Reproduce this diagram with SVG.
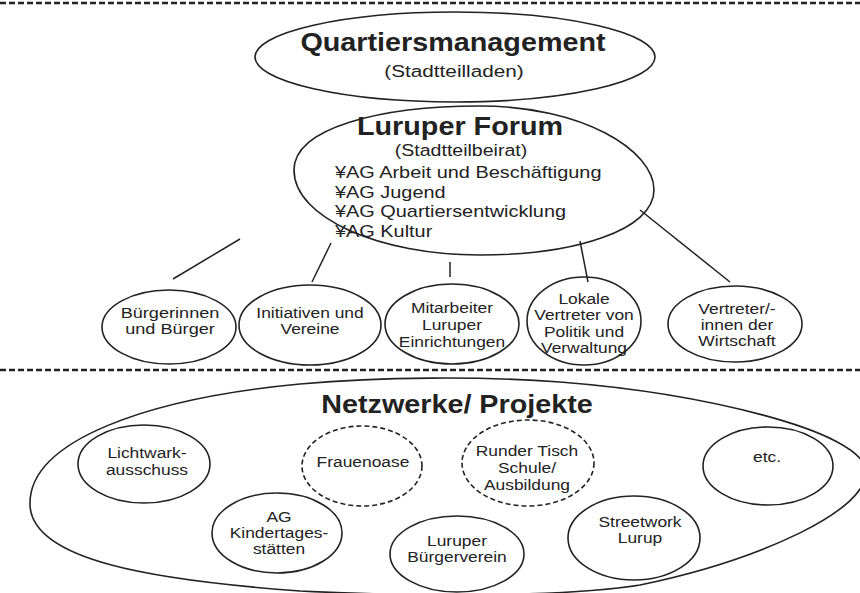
<svg xmlns="http://www.w3.org/2000/svg" width="860" height="593" viewBox="0 0 860 593">
<style>
.bg{fill:#fff}
.sep{stroke:#222;stroke-width:2.5;stroke-dasharray:6 3;fill:none}
.sh{fill:none;stroke:#222;stroke-width:1.6}
.dash{stroke-dasharray:5 3}
.ln{stroke:#222;stroke-width:1.5;fill:none}
text{font-family:"Liberation Sans",Arial,sans-serif;fill:#222}
.t1{font-size:25px;font-weight:bold;text-anchor:middle}
.t2{font-size:17px;text-anchor:middle}
.li{font-size:17px}
.s{font-size:14.5px;text-anchor:middle}
</style>
<rect class="bg" width="860" height="593"/>
<line class="sep" x1="0" y1="3" x2="860" y2="3"/>
<line class="sep" x1="0" y1="370" x2="860" y2="370"/>

<g id="quartiersmanagement">
<ellipse class="sh" cx="455" cy="57" rx="200" ry="45"/>
<text class="t1" transform="translate(453 51) scale(1.15 1)">Quartiersmanagement</text>
<text class="t2" transform="translate(454 77) scale(1.22 1)">(Stadtteilladen)</text>
</g>

<g id="luruper-forum">
<path class="sh" d="M294,170 C294,128 380,106 480,106 C582,106 654,150 654,190 C654,230 575,255 480,255 C380,255 294,218 294,170 Z"/>
<text class="t1" transform="translate(460 135) scale(1.15 1)">Luruper Forum</text>
<text class="t2" transform="translate(461 156) scale(1.15 1)">(Stadtteilbeirat)</text>
<text class="li" transform="translate(335 0) scale(1.17 1)"><tspan x="0" y="178">¥AG Arbeit und Beschäftigung</tspan><tspan x="0" y="198">¥AG Jugend</tspan><tspan x="0" y="217">¥AG Quartiersentwicklung</tspan><tspan x="0" y="237">¥AG Kultur</tspan></text>
</g>

<g id="connectors">
<line class="ln" x1="240" y1="239" x2="173" y2="279"/>
<line class="ln" x1="331" y1="243" x2="312" y2="282"/>
<line class="ln" x1="450" y1="262" x2="450" y2="277"/>
<line class="ln" x1="580" y1="241" x2="588" y2="282"/>
<line class="ln" x1="640" y1="210" x2="730" y2="282"/>
</g>

<g id="buerger">
<ellipse class="sh" cx="169" cy="327" rx="67" ry="37"/>
<text class="s" transform="translate(170 0) scale(1.25 1)"><tspan x="0" y="318">Bürgerinnen</tspan><tspan x="0" y="334">und Bürger</tspan></text>
</g>
<g id="initiativen">
<ellipse class="sh" cx="310" cy="325" rx="71" ry="40"/>
<text class="s" transform="translate(310 0) scale(1.2 1)"><tspan x="0" y="318">Initiativen und</tspan><tspan x="0" y="334">Vereine</tspan></text>
</g>
<g id="mitarbeiter">
<ellipse class="sh" cx="452" cy="324" rx="67" ry="40"/>
<text class="s" transform="translate(452 0) scale(1.2 1)"><tspan x="0" y="313">Mitarbeiter</tspan><tspan x="0" y="330">Luruper</tspan><tspan x="0" y="347">Einrichtungen</tspan></text>
</g>
<g id="lokale">
<ellipse class="sh" cx="584" cy="321" rx="57" ry="44"/>
<text class="s" transform="translate(584 0) scale(1.2 1)"><tspan x="0" y="304">Lokale</tspan><tspan x="0" y="320">Vertreter von</tspan><tspan x="0" y="337">Politik und</tspan><tspan x="0" y="353">Verwaltung</tspan></text>
</g>
<g id="wirtschaft">
<ellipse class="sh" cx="735" cy="324" rx="67" ry="38"/>
<text class="s" transform="translate(737 0) scale(1.2 1)"><tspan x="0" y="314">Vertreter/-</tspan><tspan x="0" y="330">innen der</tspan><tspan x="0" y="346">Wirtschaft</tspan></text>
</g>

<g id="netzwerke">
<path class="sh" d="M30,505 C28,440 150,398 300,384 C380,377 480,376 560,382 C700,393 860,430 866,470 C870,510 760,560 640,585 C560,598 400,596 300,591 C150,580 32,560 30,505 Z"/>
<text class="t1" transform="translate(457 413) scale(1.15 1)">Netzwerke/ Projekte</text>
</g>
<g id="lichtwark">
<ellipse class="sh" cx="144" cy="464" rx="66" ry="39"/>
<text class="s" transform="translate(147 0) scale(1.2 1)"><tspan x="0" y="458">Lichtwark-</tspan><tspan x="0" y="475">ausschuss</tspan></text>
</g>
<g id="frauenoase">
<ellipse class="sh dash" cx="362" cy="466" rx="60" ry="40"/>
<text class="s" transform="translate(363 0) scale(1.2 1)"><tspan x="0" y="467">Frauenoase</tspan></text>
</g>
<g id="runder-tisch">
<ellipse class="sh dash" cx="528" cy="463" rx="66" ry="43"/>
<text class="s" transform="translate(527 0) scale(1.2 1)"><tspan x="0" y="456">Runder Tisch</tspan><tspan x="0" y="473">Schule/</tspan><tspan x="0" y="490">Ausbildung</tspan></text>
</g>
<g id="etc">
<ellipse class="sh" cx="768" cy="466" rx="65" ry="39"/>
<text class="s" transform="translate(767 0) scale(1.2 1)"><tspan x="0" y="462">etc.</tspan></text>
</g>
<g id="kita">
<ellipse class="sh" cx="277" cy="533" rx="65" ry="40"/>
<text class="s" transform="translate(279 0) scale(1.2 1)"><tspan x="0" y="522">AG</tspan><tspan x="0" y="538">Kindertages-</tspan><tspan x="0" y="554">stätten</tspan></text>
</g>
<g id="buergerverein">
<ellipse class="sh" cx="457" cy="554" rx="67" ry="38"/>
<text class="s" transform="translate(457 0) scale(1.2 1)"><tspan x="0" y="546">Luruper</tspan><tspan x="0" y="562">Bürgerverein</tspan></text>
</g>
<g id="streetwork">
<ellipse class="sh" cx="634" cy="538" rx="66" ry="42"/>
<text class="s" transform="translate(640 0) scale(1.2 1)"><tspan x="0" y="527">Streetwork</tspan><tspan x="0" y="543">Lurup</tspan></text>
</g>
</svg>
